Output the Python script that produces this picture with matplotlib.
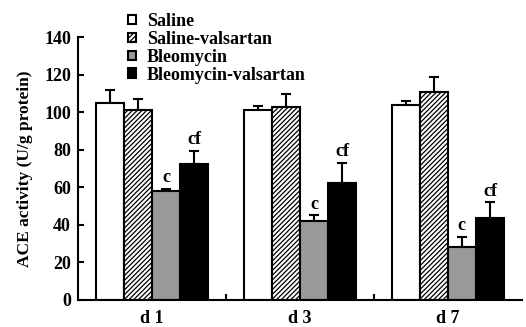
import matplotlib
matplotlib.use("Agg")
import matplotlib.pyplot as plt
import numpy as np

plt.rcParams['font.family'] = ['Liberation Serif', 'DejaVu Serif']
plt.rcParams['font.weight'] = 'bold'
plt.rcParams['hatch.linewidth'] = 0.9

days = ["d 1", "d 3", "d 7"]
series = ["Saline", "Saline-valsartan", "Bleomycin", "Bleomycin-valsartan"]
saline = [105, 101, 104]
saline_err = [7, 2.5, 2]
saline_val = [101, 103, 111]
saline_val_err = [6, 6.5, 7.5]
bleo = [58, 42, 28]
bleo_err = [1, 3, 5.5]
bleo_val = [72.5, 62.5, 43.5]
bleo_val_err = [7, 10.5, 8.5]
marks_bleo = ["c", "c", "c"]
marks_bleo_val = ["cf", "cf", "cf"]

values = [saline, saline_val, bleo, bleo_val]
errors = [saline_err, saline_val_err, bleo_err, bleo_val_err]
faces = ["white", "white", "#999999", "black"]
hatches = [None, "///////", None, None]

fig = plt.figure(figsize=(5.26, 3.27), dpi=100)
ax = fig.add_axes([0.148, 0.0826, 0.844, 0.804])

x = np.arange(len(days))
w = 0.19
for i, (vals, errs) in enumerate(zip(values, errors)):
    pos = x + (i - 1.5) * w
    ax.bar(pos, vals, w, color=faces[i], edgecolor="black", linewidth=1.5,
           hatch=hatches[i], label=series[i], zorder=2)
    ax.errorbar(pos, vals, yerr=[np.zeros(len(errs)), errs], fmt="none",
                ecolor="black", elinewidth=1.5, capsize=3.5, capthick=1.5, zorder=1)
    marks = marks_bleo if i == 2 else (marks_bleo_val if i == 3 else None)
    if marks:
        for p, v, e, m in zip(pos, vals, errs, marks):
            ax.text(p, v + e + 1.5, m, ha="center", va="bottom", fontsize=13, fontweight="bold")

ax.set_xlim(-0.5, 2.5)
ax.set_ylim(0, 140)
ax.set_yticks(np.arange(0, 141, 20))
ax.set_xticks(x)
ax.set_xticklabels(days, fontsize=13, fontweight="bold")
ax.set_xticks([0.5, 1.5], minor=True)
ax.tick_params(axis="x", which="major", length=0, pad=7)
ax.tick_params(axis="x", which="minor", length=4, width=1.5, direction="in")
ax.tick_params(axis="y", direction="in", length=4, width=1.5, labelsize=13, pad=5)
for lab in ax.get_yticklabels():
    lab.set_fontweight("bold")
ax.spines["top"].set_visible(False)
ax.spines["right"].set_visible(False)
ax.spines["left"].set_linewidth(1.5)
ax.spines["bottom"].set_linewidth(1.5)
ax.set_ylabel("ACE activity (U/g protein)", fontsize=12.5, fontweight="bold", labelpad=8)

leg = fig.legend(loc="upper left", bbox_to_anchor=(128 / 526, 1 - 13 / 327), frameon=False,
                 fontsize=13, handlelength=0.45, handleheight=0.45, handletextpad=0.6,
                 labelspacing=0.05, borderaxespad=0, borderpad=0)
for h in leg.legend_handles:
    h.set_linewidth(1.5)

fig.savefig("out.png", dpi=100)
